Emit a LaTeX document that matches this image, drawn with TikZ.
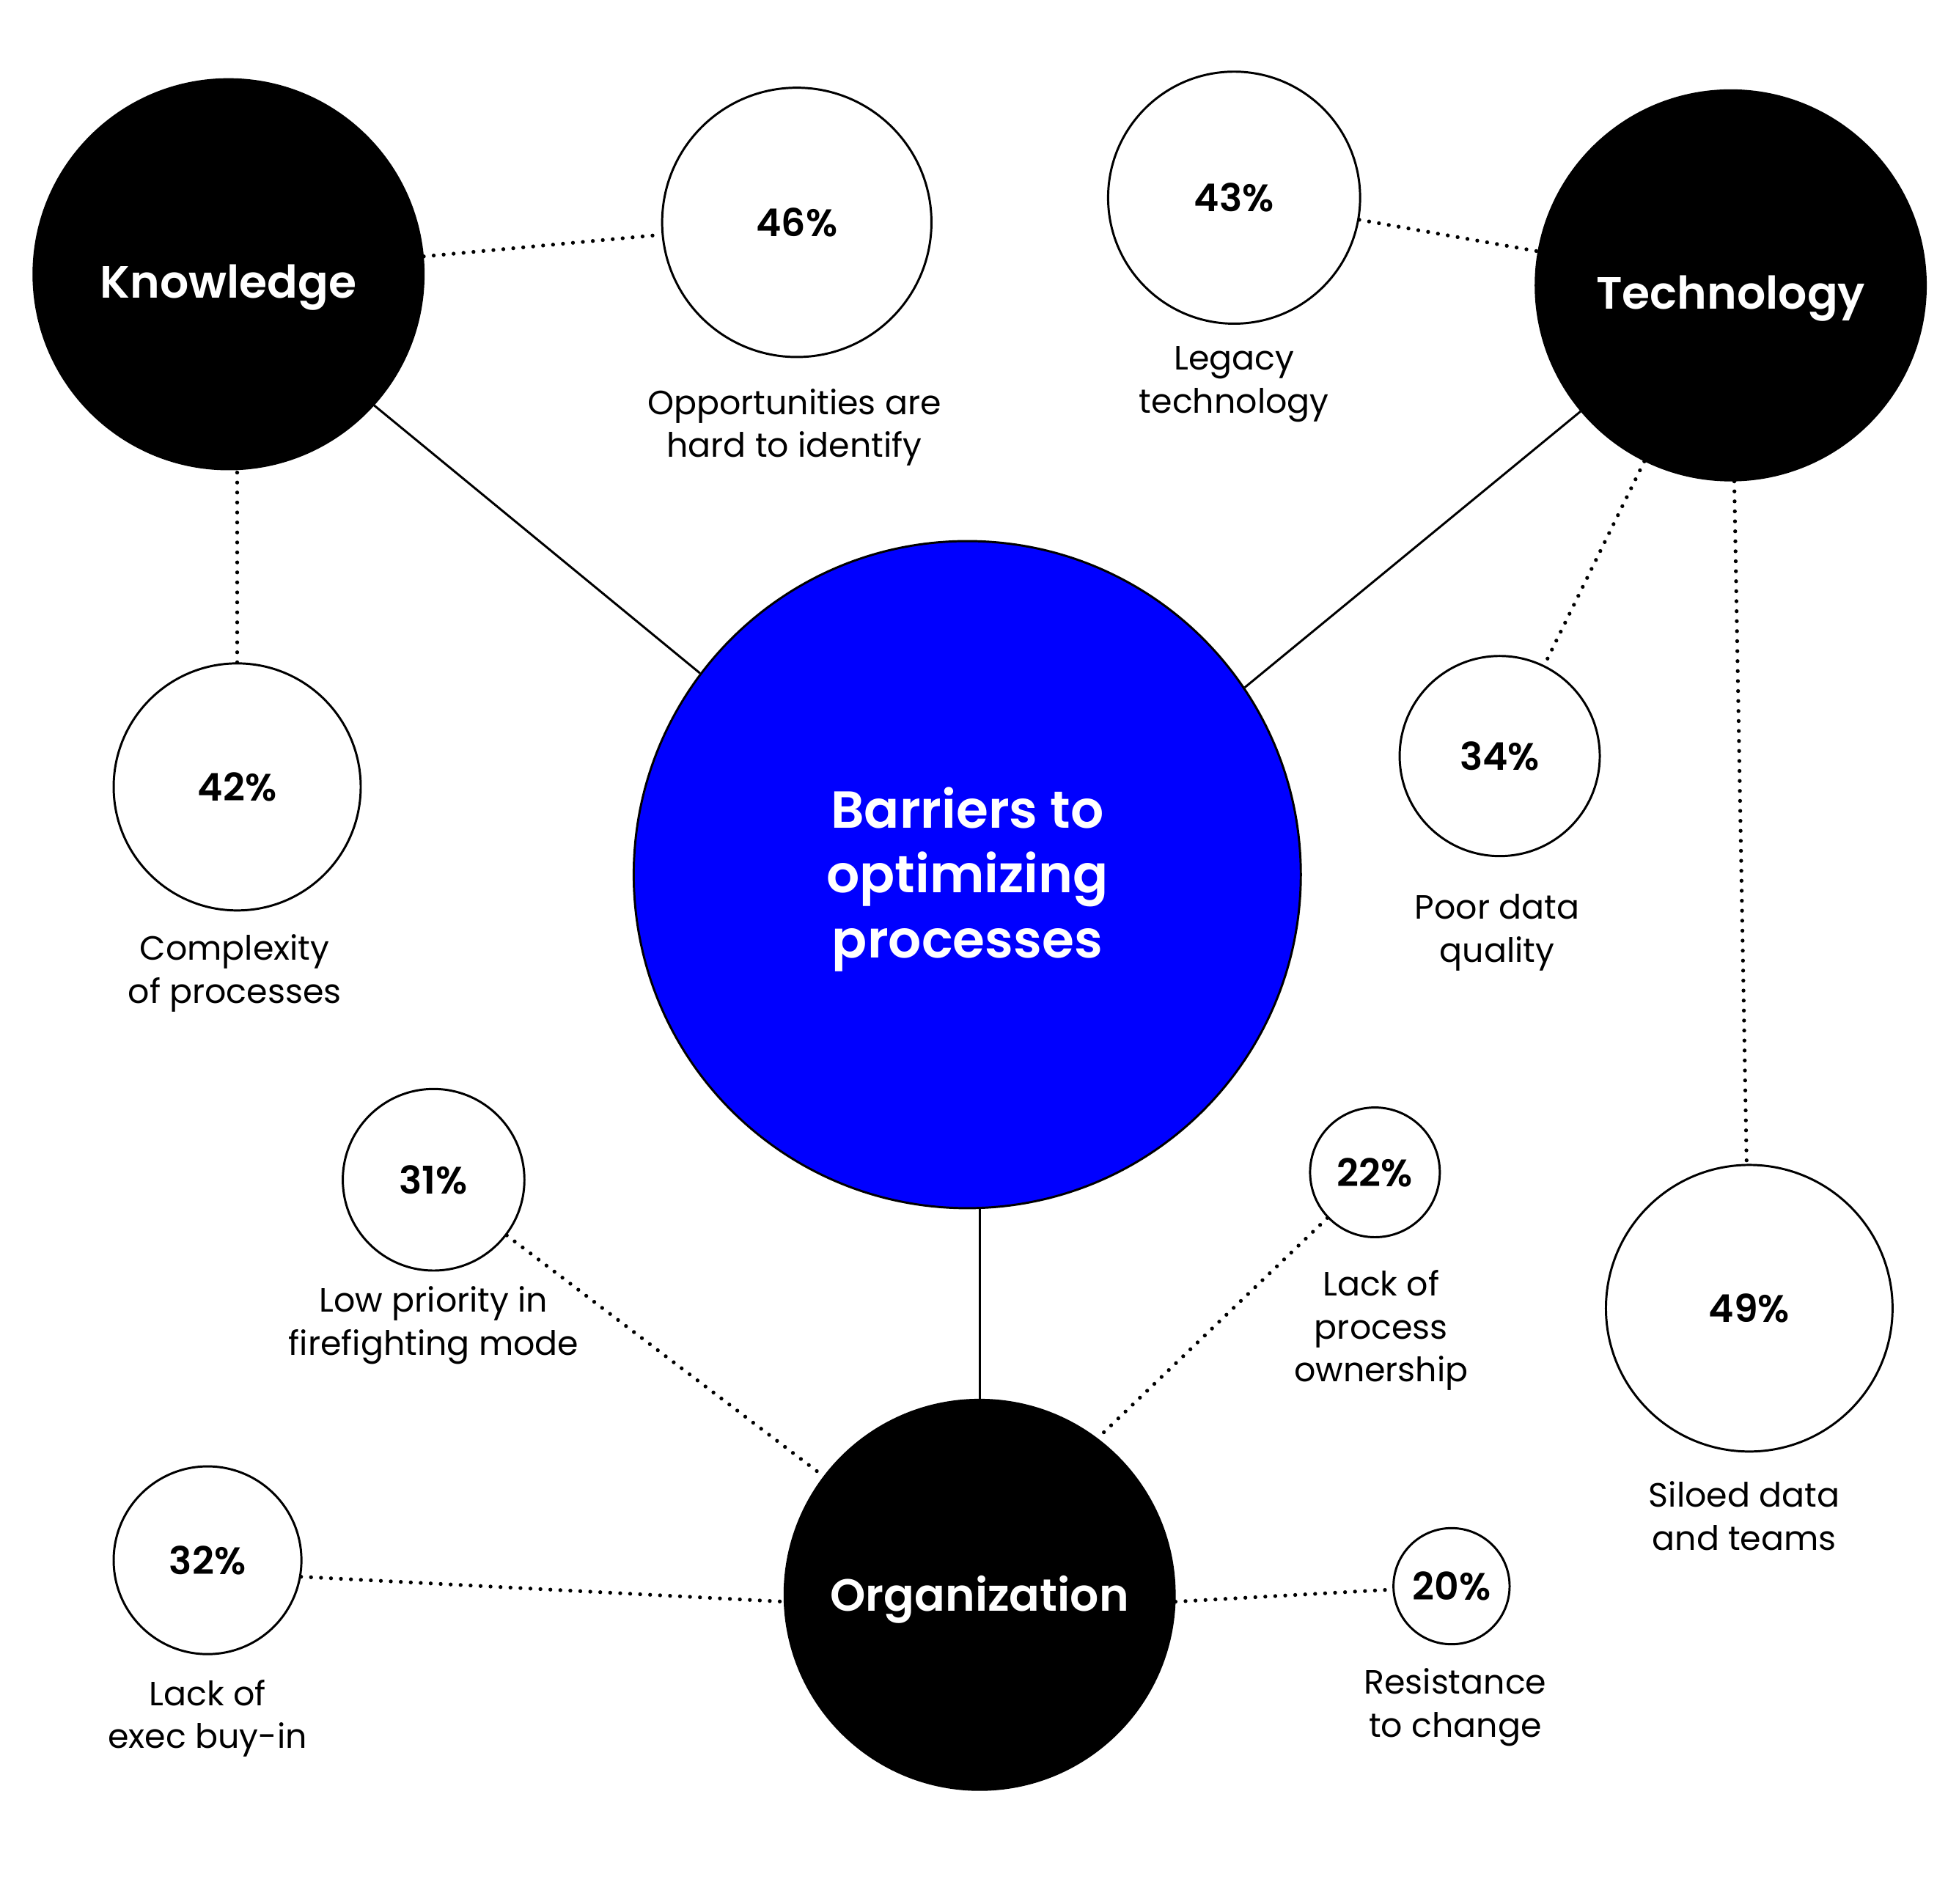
\documentclass[tikz,border=0pt]{standalone}
\usepackage{fontspec}
\setmainfont{Poppins}[BoldFont={Poppins SemiBold}]
\usepackage{tikz}
\usetikzlibrary{calc, positioning}

\definecolor{barrierblue}{RGB}{0,0,255}
\newcommand{\dropby}[2]{\raisebox{-#1}[\height][\depth]{#2}}

\begin{document}
\begin{tikzpicture}[x=1cm, y=-1cm,
    topic/.style={circle, fill=black, draw=black, inner sep=0pt, minimum size=3.16cm,
        text=white, font=\bfseries\fontsize{10.4}{13}\selectfont},
    stat/.style={circle, draw=black, line width=0.5pt, inner sep=0pt, minimum size=#1,
        font=\bfseries\fontsize{8.8}{10}\selectfont},
    caption/.style={align=center, font=\fontsize{7.75}{9.9}\selectfont},
    link/.style={line width=0.5pt},
    dots/.style={line width=0.9pt, line cap=round, dash pattern=on 0pt off 2.3pt}]
        \useasboundingbox (0,0) rectangle (15.68,15.41);

        % central circle
        \node[circle, fill=barrierblue, draw=black, line width=0.5pt, minimum size=5.4cm, inner sep=0pt,
            align=center, text=white, font=\bfseries\fontsize{12}{15}\selectfont]
            (B) at (7.83,7.08) {\dropby{1.1pt}{Barriers to}\\\dropby{1.1pt}{optimizing}\\\dropby{1.1pt}{processes}};

        % the three groups
        \node[topic] (K) at (1.85,2.22) {\dropby{3.1pt}{Knowledge}};
        \node[topic] (T) at (14.01,2.31) {\dropby{3.1pt}{Technology}};
        \node[topic] (O) at (7.93,12.91) {\dropby{1.1pt}{Organization}};

        \draw[link] (K.-42) -- (B.143);
        \draw[link] (T.220) -- (B.34);
        \draw[link] (O.north) -- (O.north |- B.south);

        % knowledge
        \node[stat=2.18cm] (s46) at (6.45,1.80) {46\%};
        \node[caption] (c46) at (6.43,3.46) {Opportunities are\\hard to identify};
        \node[stat=2.0cm] (s42) at (1.92,6.37) {42\%};
        \node[caption] (c42) at (1.90,7.88) {Complexity\\of processes};
        \draw[dots] (K) -- (s46);
        \draw[dots] (s42.north) -- (s42.north |- K.south);

        % technology
        \node[stat=2.04cm] (s43) at (9.99,1.60) {43\%};
        \node[caption] (c43) at (9.99,3.11) {Legacy\\technology};
        \node[stat=1.62cm] (s34) at (12.14,6.12) {34\%};
        \node[caption] (c34) at (12.12,7.55) {Poor data\\quality};
        \node[stat=2.32cm] (s49) at (14.16,10.59) {49\%};
        \node[caption] (c49) at (14.12,12.27) {Siloed data\\and teams};
        \draw[dots] (s43) -- (T);
        \draw[dots] (T) -- (s34);
        \draw[dots] (T) -- (s49);

        % organization
        \node[stat=1.47cm] (s31) at (3.51,9.55) {31\%};
        \node[caption] (c31) at (3.51,10.73) {Low priority in\\firefighting mode};
        \node[stat=1.05cm] (s22) at (11.13,9.49) {22\%};
        \node[caption] (c22) at (11.18,10.77) {Lack of\\process\\ownership};
        \node[stat=1.52cm] (s32) at (1.68,12.63) {32\%};
        \node[caption] (c32) at (1.68,13.91) {Lack of\\exec buy-in};
        \node[stat=0.94cm] (s20) at (11.75,12.84) {20\%};
        \node[caption] (c20) at (11.78,13.82) {Resistance\\to change};
        \draw[dots] (s31) -- (O);
        \draw[dots] (s22) -- (O.53);
        \draw[dots] (s32.-10) -- (O.182);
        \draw[dots] (O.-2) -- (s20);
    \end{tikzpicture}
\end{document}
